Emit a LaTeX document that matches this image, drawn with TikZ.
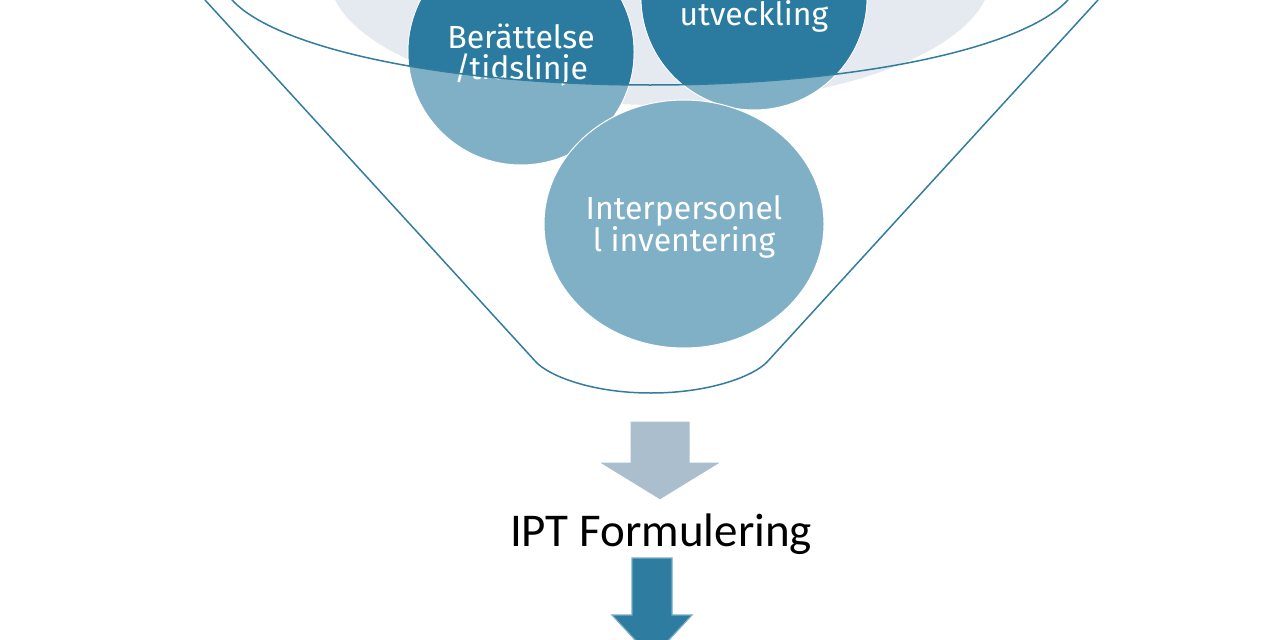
\documentclass[tikz,border=0pt]{standalone}
\usepackage{fontspec}
\setmainfont{Carlito}
\newfontfamily\bubblefont{Fira Sans}
\usetikzlibrary{shapes.geometric}
\definecolor{funnelblue}{RGB}{50,124,158}
\definecolor{bubbledark}{RGB}{43,123,160}
\definecolor{bubblelight}{RGB}{128,176,197}
\definecolor{mistgray}{RGB}{229,234,240}
\definecolor{arrowgray}{RGB}{171,190,205}
\definecolor{arrowteal}{RGB}{46,124,160}
\definecolor{arrowrim}{RGB}{120,172,198}

\begin{document}
\begin{tikzpicture}[x=1pt,y=-1pt,
  funnel/.style={draw=funnelblue,line width=1.5pt},
  bubble/.style={fill=bubblelight,draw=white,line width=1pt,inner sep=0pt},
  bubbletext/.style={text=white,font=\bubblefont\fontsize{32}{31}\selectfont,align=center}]
  \useasboundingbox (0,0) rectangle (1280,640);
  % misty back of the funnel
  \fill[mistgray] (660,-25) ellipse [x radius=331,y radius=130];
  % bubbles
  \node[bubble,circle,minimum size=226pt] (story) at (521,52) {};
  \node[bubble,circle,minimum size=226pt] (growth) at (754,-3) {};
  \node[bubble,ellipse,minimum width=280pt,minimum height=248pt] (inventory) at (684,224) {};
  % darker inside the rim
  \begin{scope}
    \clip (650,-25) ellipse [x radius=429,y radius=110];
    \fill[bubbledark] (story.center) circle [radius=112.5];
    \fill[bubbledark] (growth.center) circle [radius=112.5];
  \end{scope}
  \node[bubbletext] (storytext) at (521,55) {Berättelse\\/tidslinje};
  \node[bubbletext,anchor=base] (growthtext) at (754,25) {utveckling};
  \node[bubbletext] (inventorytext) at (684,227) {Interpersonel\\l inventering};
  % funnel
  \draw[funnel] (650,-25) ellipse [x radius=429,y radius=110];
  \draw[funnel] (205,0) -- (536,362) .. controls (548,375) and (590,393) .. (651,393)
    .. controls (712,393) and (755,375) .. (767,362) -- (1098,0);
  % arrows
  \filldraw[fill=arrowgray,draw=white,line width=1pt] (630,421) -- (690,421) -- (690,462) -- (722,462)
    -- (660,500) -- (598,462) -- (630,462) -- cycle;
  \node[anchor=base,font=\fontsize{47}{52}\selectfont] (ipt) at (661,546) {IPT Formulering};
  \filldraw[fill=arrowteal,draw=arrowrim,line width=1.2pt] (632,558) -- (672,558) -- (672,615) -- (692,615)
    -- (652,658) -- (612,615) -- (632,615) -- cycle;
\end{tikzpicture}
\end{document}
